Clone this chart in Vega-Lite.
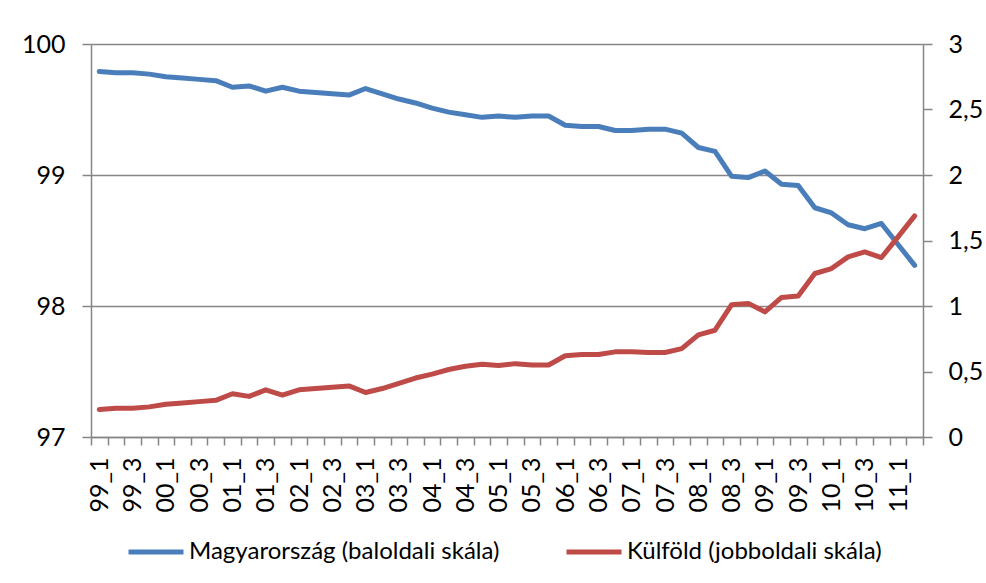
{
  "$schema": "https://vega.github.io/schema/vega-lite/v6.json",
  "width": 832,
  "height": 393,
  "autosize": {"type": "none"},
  "padding": {"left": 91, "top": 44, "right": 63, "bottom": 146},
  "background": "white",
  "config": {
    "font": "Lato",
    "view": {"stroke": null},
    "axis": {"labelFont": "Lato", "labelFontSize": 25, "labelColor": "#000000", "domainColor": "#868686", "tickColor": "#868686", "gridColor": "#868686", "domainWidth": 1.5, "tickWidth": 1.5, "gridWidth": 1.5}
  },
  "data": {
    "values": [
      {"q": "99_1", "hu": 99.79, "fo": 0.21},
      {"q": "99_2", "hu": 99.78, "fo": 0.22},
      {"q": "99_3", "hu": 99.78, "fo": 0.22},
      {"q": "99_4", "hu": 99.77, "fo": 0.23},
      {"q": "00_1", "hu": 99.75, "fo": 0.25},
      {"q": "00_2", "hu": 99.74, "fo": 0.26},
      {"q": "00_3", "hu": 99.73, "fo": 0.27},
      {"q": "00_4", "hu": 99.72, "fo": 0.28},
      {"q": "01_1", "hu": 99.67, "fo": 0.33},
      {"q": "01_2", "hu": 99.68, "fo": 0.31},
      {"q": "01_3", "hu": 99.64, "fo": 0.36},
      {"q": "01_4", "hu": 99.67, "fo": 0.32},
      {"q": "02_1", "hu": 99.64, "fo": 0.36},
      {"q": "02_2", "hu": 99.63, "fo": 0.37},
      {"q": "02_3", "hu": 99.62, "fo": 0.38},
      {"q": "02_4", "hu": 99.61, "fo": 0.39},
      {"q": "03_1", "hu": 99.66, "fo": 0.34},
      {"q": "03_2", "hu": 99.62, "fo": 0.37},
      {"q": "03_3", "hu": 99.58, "fo": 0.41},
      {"q": "03_4", "hu": 99.55, "fo": 0.45},
      {"q": "04_1", "hu": 99.51, "fo": 0.48},
      {"q": "04_2", "hu": 99.48, "fo": 0.515},
      {"q": "04_3", "hu": 99.46, "fo": 0.54},
      {"q": "04_4", "hu": 99.44, "fo": 0.555},
      {"q": "05_1", "hu": 99.45, "fo": 0.545},
      {"q": "05_2", "hu": 99.44, "fo": 0.56},
      {"q": "05_3", "hu": 99.45, "fo": 0.55},
      {"q": "05_4", "hu": 99.45, "fo": 0.55},
      {"q": "06_1", "hu": 99.38, "fo": 0.62},
      {"q": "06_2", "hu": 99.37, "fo": 0.63},
      {"q": "06_3", "hu": 99.37, "fo": 0.63},
      {"q": "06_4", "hu": 99.34, "fo": 0.65},
      {"q": "07_1", "hu": 99.34, "fo": 0.65},
      {"q": "07_2", "hu": 99.35, "fo": 0.645},
      {"q": "07_3", "hu": 99.35, "fo": 0.645},
      {"q": "07_4", "hu": 99.32, "fo": 0.675},
      {"q": "08_1", "hu": 99.21, "fo": 0.78},
      {"q": "08_2", "hu": 99.18, "fo": 0.815},
      {"q": "08_3", "hu": 98.99, "fo": 1.01},
      {"q": "08_4", "hu": 98.98, "fo": 1.02},
      {"q": "09_1", "hu": 99.03, "fo": 0.955},
      {"q": "09_2", "hu": 98.93, "fo": 1.065},
      {"q": "09_3", "hu": 98.92, "fo": 1.077},
      {"q": "09_4", "hu": 98.75, "fo": 1.248},
      {"q": "10_1", "hu": 98.71, "fo": 1.286},
      {"q": "10_2", "hu": 98.62, "fo": 1.375},
      {"q": "10_3", "hu": 98.59, "fo": 1.413},
      {"q": "10_4", "hu": 98.63, "fo": 1.37},
      {"q": "11_1", "hu": 98.47, "fo": 1.528},
      {"q": "11_2", "hu": 98.31, "fo": 1.688}
    ]
  },
  "encoding": {
    "x": {
      "field": "q",
      "type": "ordinal",
      "sort": null,
      "bandPosition": 0.5,
      "scale": {"type": "band", "paddingInner": 0, "paddingOuter": 0},
      "axis": {
        "title": null,
        "labelAngle": -90,
        "labelAlign": "right",
        "labelBaseline": "middle",
        "tickBand": "extent",
        "tickSize": 8,
        "labelPadding": 12,
        "labelExpr": "test(/_[13]$/, datum.label) ? datum.label : ''"
      }
    }
  },
  "layer": [
    {
      "mark": {"type": "line", "strokeWidth": 5, "strokeCap": "round", "strokeJoin": "round"},
      "encoding": {
        "y": {
          "field": "hu",
          "type": "quantitative",
          "scale": {"domain": [97, 100], "zero": false, "nice": false},
          "axis": {"title": null, "orient": "left", "values": [97, 98, 99, 100], "tickSize": 9, "labelPadding": 17, "grid": true, "format": "d"}
        },
        "color": {
          "datum": "Magyarország (baloldali skála)",
          "type": "nominal",
          "scale": {"domain": ["Magyarország (baloldali skála)", "Külföld (jobboldali skála)"], "range": ["#4A7EBB", "#BE4B48"]},
          "legend": {
            "title": null,
            "orient": "none",
            "direction": "horizontal",
            "legendX": 35,
            "legendY": 478,
            "symbolType": "stroke",
            "symbolSize": 3025,
            "symbolStrokeWidth": 5,
            "labelFontSize": 24,
            "labelFont": "Lato",
            "labelColor": "#000000",
            "labelOffset": 3,
            "columnPadding": 56,
            "labelLimit": 450
          }
        }
      }
    },
    {
      "mark": {"type": "line", "strokeWidth": 5, "strokeCap": "round", "strokeJoin": "round"},
      "encoding": {
        "y": {
          "field": "fo",
          "type": "quantitative",
          "scale": {"domain": [0, 3], "nice": false},
          "axis": {"title": null, "orient": "right", "values": [0, 0.5, 1, 1.5, 2, 2.5, 3], "tickSize": 9, "labelPadding": 16, "grid": false, "labelExpr": "replace(format(datum.value, '~g'), '.', ',')"}
        },
        "color": {"datum": "Külföld (jobboldali skála)", "type": "nominal"}
      }
    }
  ],
  "resolve": {"scale": {"y": "independent"}}
}
